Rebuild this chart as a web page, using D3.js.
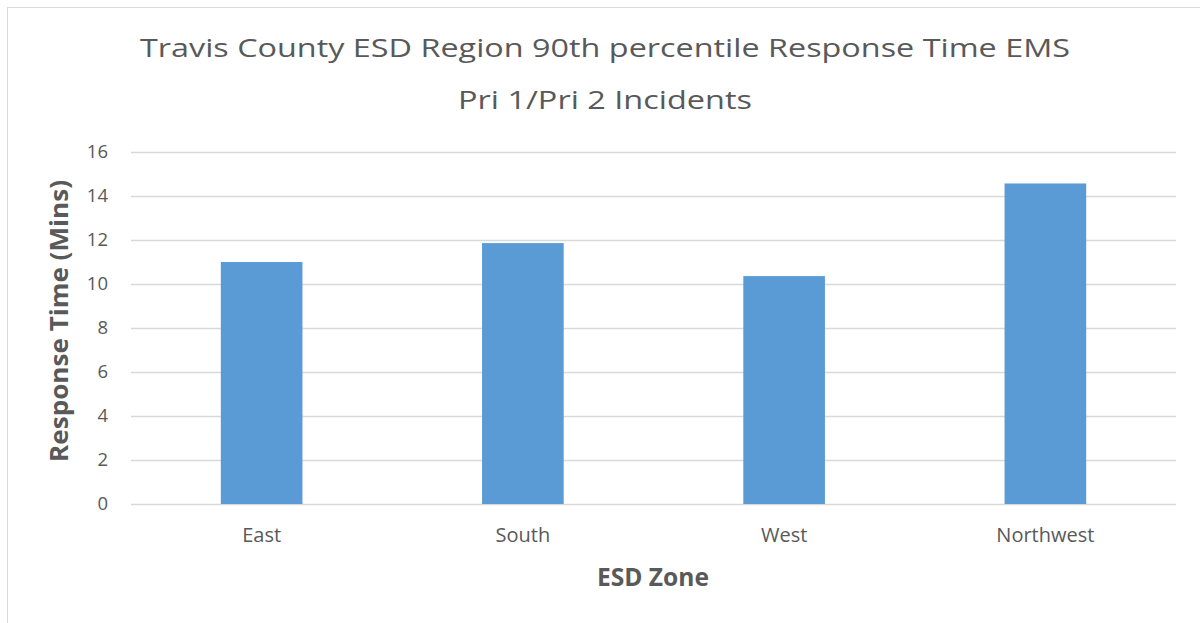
<!DOCTYPE html>
<html>
<head>
<meta charset="utf-8">
<script src="https://d3js.org/d3.v7.min.js"></script>
<style>
  html, body { margin: 0; padding: 0; background: #fff; overflow: hidden; }
  svg { display: block; }
</style>
</head>
<body>
<svg id="chart" width="1200" height="623"></svg>
<script>
const categories = ["East", "South", "West", "Northwest"];
const values = [11.0, 11.86, 10.36, 14.57];
const yTicks = [0, 2, 4, 6, 8, 10, 12, 14, 16];
const titleLines = ["Travis County ESD Region 90th percentile Response Time EMS", "Pri 1/Pri 2 Incidents"];
const xTitle = "ESD Zone";
const yTitle = "Response Time (Mins)";

(function () {
const svg = d3.select("#chart");
const font = "'Open Sans', 'Noto Sans', sans-serif";
const textColor = "#595959";

svg.append("rect").attr("x", 7.5).attr("y", 7.5).attr("width", 1200).attr("height", 640)
  .attr("fill", "#fff").attr("stroke", "#d9d9d9").attr("stroke-width", 1);

const pLeft = 131, pRight = 1176, pTop = 152, pBottom = 504;
const x = d3.scaleBand().domain(categories).range([pLeft, pRight]).paddingInner(0.6875).paddingOuter(0.34375);
const y = d3.scaleLinear().domain([0, 16]).range([pBottom, pTop]);

// gridlines
svg.append("g").selectAll("line").data(yTicks).join("line")
  .attr("x1", pLeft).attr("x2", pRight)
  .attr("y1", d => Math.round(y(d)) + 0.5).attr("y2", d => Math.round(y(d)) + 0.5)
  .attr("stroke", "#d9d9d9").attr("stroke-width", 1.5);

// bars
svg.append("g").selectAll("rect").data(values).join("rect")
  .attr("x", (d, i) => x(categories[i]))
  .attr("width", x.bandwidth())
  .attr("y", d => y(d))
  .attr("height", d => y(0) - y(d))
  .attr("fill", "#5b9bd5");

// y axis
const yAxis = d3.axisLeft(y).tickValues(yTicks).tickSize(0).tickPadding(0);
const gy = svg.append("g").attr("transform", `translate(${pLeft - 23},0)`).call(yAxis);
gy.select(".domain").remove();
gy.selectAll("text").attr("font-family", font).attr("font-size", 18.5).attr("fill", textColor);

// x axis
const xAxis = d3.axisBottom(x).tickSize(0).tickPadding(0);
const gx = svg.append("g").attr("transform", "translate(0,0)").call(xAxis);
gx.select(".domain").remove();
gx.selectAll("text").attr("y", 542).attr("dy", 0)
  .attr("font-family", font).attr("font-size", 20).attr("fill", textColor);

// title
svg.append("text").attr("x", 605).attr("y", 57).attr("text-anchor", "middle")
  .attr("font-family", font).attr("font-size", 25.5).attr("fill", textColor)
  .attr("textLength", 930).attr("lengthAdjust", "spacingAndGlyphs")
  .text(titleLines[0]);
svg.append("text").attr("x", 605).attr("y", 109).attr("text-anchor", "middle")
  .attr("font-family", font).attr("font-size", 25.5).attr("fill", textColor)
  .attr("textLength", 294).attr("lengthAdjust", "spacingAndGlyphs")
  .text(titleLines[1]);

// axis titles
svg.append("text").attr("x", 653).attr("y", 586).attr("text-anchor", "middle")
  .attr("font-family", font).attr("font-size", 25).attr("font-weight", "bold").attr("fill", textColor)
  .attr("textLength", 112).attr("lengthAdjust", "spacingAndGlyphs")
  .text(xTitle);
svg.append("text").attr("transform", "translate(68,321) rotate(-90)").attr("text-anchor", "middle")
  .attr("font-family", font).attr("font-size", 25).attr("font-weight", "bold").attr("fill", textColor)
  .attr("textLength", 282).attr("lengthAdjust", "spacingAndGlyphs")
  .text(yTitle);
})();
</script>
</body>
</html>
